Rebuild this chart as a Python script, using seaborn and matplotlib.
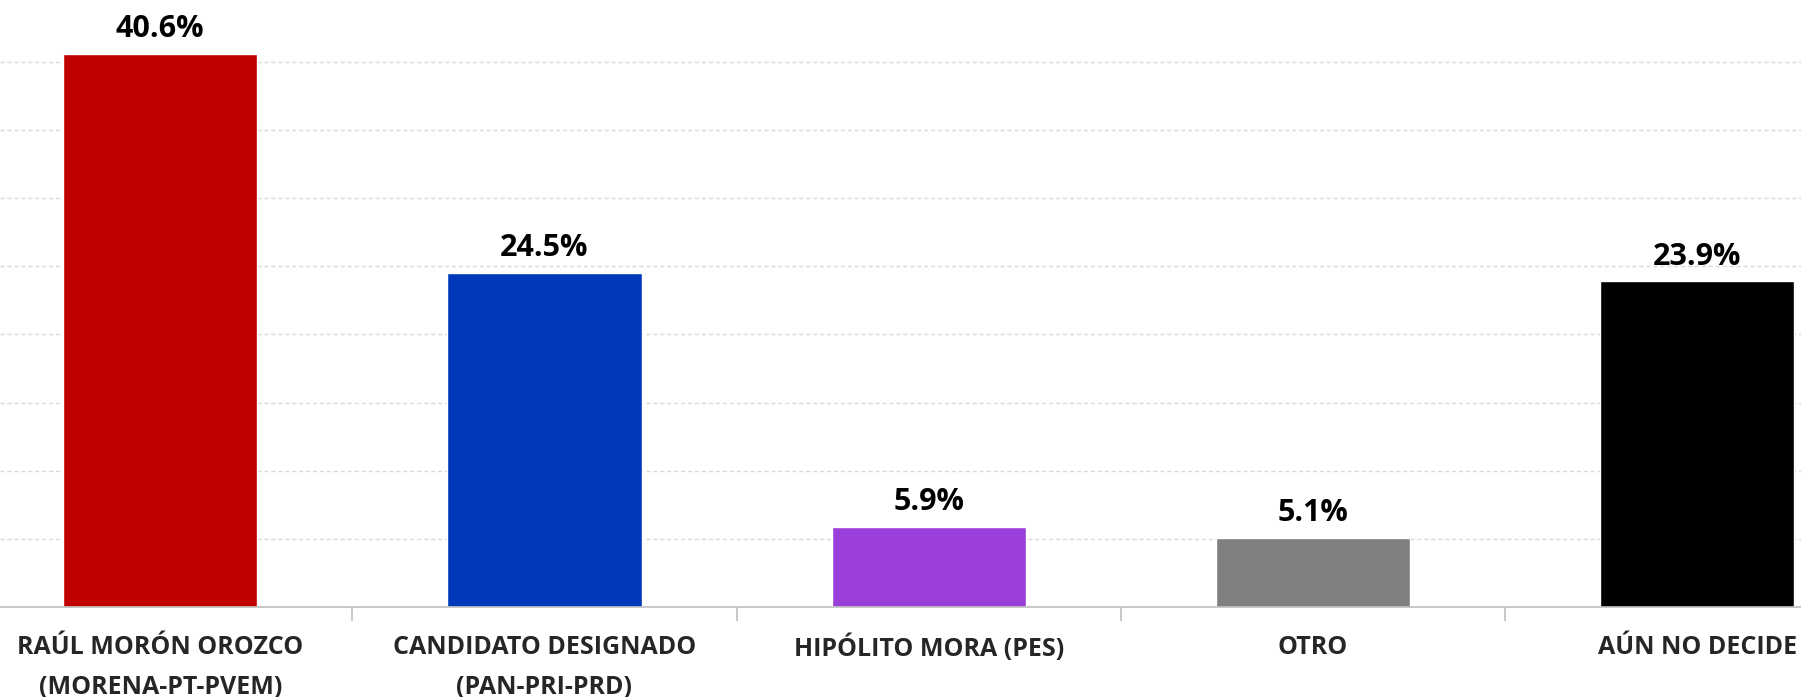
import pandas as pd
import seaborn as sns
import matplotlib.pyplot as plt
from matplotlib.ticker import MultipleLocator, FixedLocator

# Datos de la encuesta
candidatos = ["RAÚL MORÓN OROZCO\n(MORENA-PT-PVEM)", "CANDIDATO DESIGNADO\n(PAN-PRI-PRD)",
              "HIPÓLITO MORA (PES)", "OTRO", "AÚN NO DECIDE"]
porcentajes = [40.6, 24.5, 5.9, 5.1, 23.9]
colores = ["#C00000", "#0038BA", "#9B3FDB", "#808080", "#000000"]

df = pd.DataFrame({"Candidato": candidatos, "Pct": porcentajes})

sns.set_style("white")
plt.rcParams["font.family"] = ["Open Sans", "DejaVu Sans"]

fig = plt.figure(figsize=(18.01, 6.97), dpi=100)
ax = fig.add_axes([0, 90 / 697, 1, 607 / 697])

sns.barplot(data=df, x="Candidato", y="Pct", hue="Candidato", palette=colores,
            legend=False, width=0.505, saturation=1, ax=ax)

for cont in ax.containers:
    ax.bar_label(cont, fmt="%.1f%%", padding=7, fontsize=22, fontweight="bold", color="black")

ax.set_xlim(-0.417, 4.27)
ax.set_ylim(0, 44.55)
ax.yaxis.set_major_locator(MultipleLocator(5))
ax.grid(axis="y", color="#D9D9D9", linestyle=(0, (3, 2)), linewidth=1)
ax.set_axisbelow(True)
ax.set_yticklabels([])
ax.tick_params(axis="y", length=0)

ax.set_xticks(range(len(candidatos)))
ax.set_xticklabels(candidatos, fontsize=18, fontweight="bold", linespacing=1.82)
ax.xaxis.set_minor_locator(FixedLocator([0.5, 1.5, 2.5, 3.5]))
ax.tick_params(axis="x", which="major", length=0, pad=20)
ax.tick_params(axis="x", which="minor", bottom=True, length=10, color="#BFBFBF", width=1.2)

for s in ["top", "left", "right"]:
    ax.spines[s].set_visible(False)
ax.spines["bottom"].set_color("#BFBFBF")
ax.spines["bottom"].set_linewidth(1.2)

ax.set_xlabel("")
ax.set_ylabel("")

fig.savefig("out.png", dpi=100)
